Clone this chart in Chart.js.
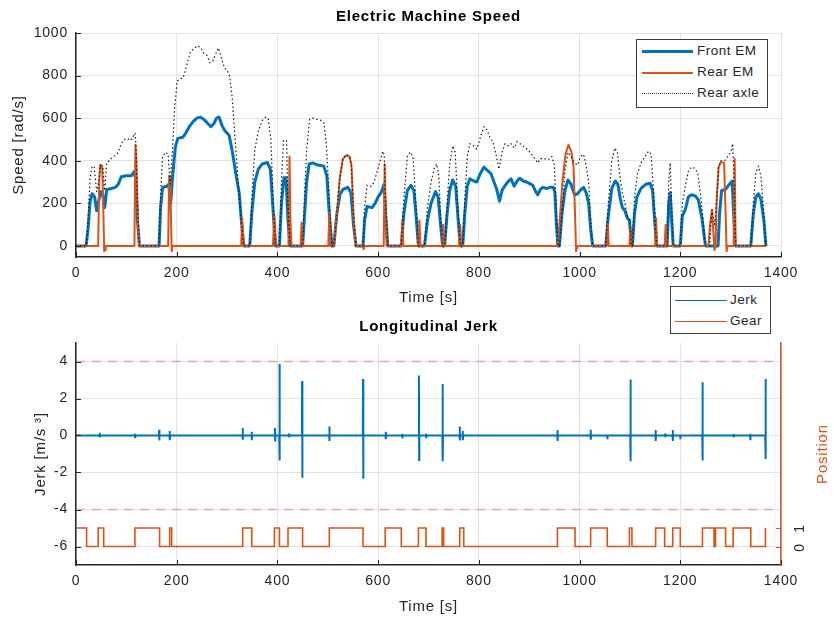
<!DOCTYPE html>
<html>
<head>
<meta charset="utf-8">
<title>Electric Machine Speed / Longitudinal Jerk</title>
<script src="https://cdn.jsdelivr.net/npm/chart.js@4.4.1/dist/chart.umd.min.js"></script>
<style>
    html, body { margin: 0; padding: 0; background: #fff; }
    body { width: 834px; height: 617px; position: relative; overflow: hidden;
           font-family: "Liberation Sans", Arial, sans-serif; }
    .panel { position: absolute; left: 0; width: 834px; }
    #speedPanel { top: 0; height: 310px; }
    #jerkPanel { top: 310px; height: 307px; }
    .legend { position: absolute; background: #fff; border: 1.5px solid #404040; box-sizing: border-box;
              font-size: 13.5px; letter-spacing: 0.5px; color: #262626; z-index: 2; }
    .legend .line { position: absolute; }
    .legend .label { position: absolute; line-height: 16px; white-space: nowrap; }
</style>
</head>
<body>
<div class="panel" id="speedPanel"><canvas id="speed-chart" width="834" height="310"></canvas></div>
<div class="panel" id="jerkPanel"><canvas id="jerk-chart" width="834" height="307"></canvas></div>

<div class="legend" id="speedLegend" style="left:636px; top:39px; width:132px; height:69px;"></div>
<div class="legend" id="jerkLegend" style="left:670px; top:286px; width:101px; height:48px;"></div>

<script>
    // ---- data ----
    const timeTicks = [0, 200, 400, 600, 800, 1000, 1200, 1400];
    const speedTicks = [0, 200, 400, 600, 800, 1000];
    const jerkTicks = [-6, -4, -2, 0, 2, 4];
    const gearTicks = [0, 1];

    // Front EM speed [rad/s]
    const frontTime = [0, 20, 24, 28, 32, 37, 41, 45, 49, 53, 57, 61, 70, 78, 84, 90, 100, 110, 116, 119, 122, 126,
        165, 168, 172, 180, 184, 188, 192, 197, 202, 212, 218, 225, 233, 240, 247, 253, 260, 268, 274, 279, 284, 290, 296, 304, 310, 318, 324, 328, 333,
        345, 349, 355, 362, 370, 380, 386, 391, 396,
        404, 408, 413, 417, 421, 425,
        450, 454, 458, 463, 470, 480, 492, 498, 503, 508,
        512, 518, 524, 530, 540, 546, 551, 556,
        570, 573, 578, 588, 594, 600, 606, 612, 615, 619,
        646, 651, 658, 665, 671, 676, 680,
        692, 698, 705, 714, 719, 724, 728,
        732, 737, 742, 748, 754, 759, 763,
        768, 772, 777, 782, 790, 796, 803, 810, 817, 824, 830, 835, 841, 846, 851, 857, 864, 870, 876, 881, 888, 895, 903, 907, 913, 917, 922, 927, 935, 941, 948, 951, 954, 957,
        960, 965, 971, 977, 983, 990, 996, 1003, 1008, 1013, 1018, 1022, 1026,
        1052, 1057, 1064, 1071, 1076, 1081, 1085, 1090, 1095, 1099, 1103,
        1105, 1109, 1114, 1122, 1132, 1140, 1145, 1149, 1153,
        1174, 1177, 1180, 1183, 1186,
        1200, 1204, 1210, 1216, 1222, 1230, 1236, 1243, 1250,
        1275, 1278, 1282, 1290, 1296, 1303, 1306, 1309,
        1340, 1345, 1350, 1355, 1360, 1366, 1370];
    const frontSpeed = [0, 0, 80, 210, 245, 230, 165, 210, 255, 240, 180, 265, 270, 275, 290, 325, 330, 330, 350, 300, 120, 0,
        0, 180, 275, 280, 290, 200, 330, 460, 505, 510, 530, 560, 585, 600, 605, 595, 580, 560, 575, 600, 605, 565, 540, 520, 450, 330, 250, 130, 0,
        0, 150, 300, 360, 385, 392, 360, 180, 0,
        0, 200, 320, 320, 120, 0,
        0, 150, 300, 385, 390, 380, 375, 330, 150, 0,
        0, 150, 240, 265, 275, 250, 100, 0,
        0, 120, 185, 180, 200, 230, 250, 290, 150, 0,
        0, 150, 260, 285, 260, 120, 0,
        0, 120, 200, 255, 230, 100, 0,
        0, 150, 260, 310, 280, 120, 0,
        0, 150, 280, 315, 305, 300, 340, 370, 355, 340, 300, 270, 210, 260, 280, 300, 315, 280, 305, 318, 305, 300, 290, 285, 255, 240, 265, 275, 270, 275, 275, 250, 100, 0,
        0, 150, 260, 310, 290, 240, 245, 265, 275, 250, 200, 80, 0,
        0, 140, 270, 305, 290, 220, 180, 165, 130, 120, 0,
        0, 150, 230, 270, 290, 295, 260, 120, 0,
        0, 200, 250, 120, 0,
        0, 140, 170, 230, 240, 235, 215, 130, 0,
        0, 150, 260, 265, 285, 305, 150, 0,
        0, 150, 230, 245, 220, 120, 0];

    // Rear EM speed [rad/s]
    const rearTime = [0, 44, 46, 48, 52, 54, 56, 58, 59,
        116, 118, 120, 123, 125,
        183, 185, 187, 190, 192,
        328, 330, 333,
        391, 394, 397,
        422, 424, 426, 428,
        446, 448, 450,
        501, 503, 505,
        512, 518, 524, 530, 537, 543, 547, 551, 555,
        569, 571, 573,
        611, 613, 615, 617,
        646, 648, 650,
        680, 682, 684,
        727, 729, 731,
        761, 763, 765,
        956, 960, 966, 972, 978, 984, 988, 991, 993, 996,
        1054, 1056, 1058,
        1099, 1101, 1103,
        1150, 1152, 1154,
        1169, 1171, 1173,
        1256, 1259, 1263, 1266, 1268, 1270, 1272, 1276, 1281, 1287, 1290, 1292, 1294,
        1306, 1308, 1310, 1370];
    const rearSpeed = [0, 0, 300, 380, 375, 200, -25, -20, 0,
        0, 475, 400, 100, 0,
        0, 330, 320, -25, 0,
        0, 130, 0,
        0, 150, 0,
        0, 420, 100, 0,
        0, 110, 0,
        0, 155, 0,
        0, 150, 320, 410, 425, 420, 380, 150, 0,
        0, -15, 0,
        0, 385, 100, 0,
        0, 120, 0,
        0, 120, 0,
        0, 100, 0,
        0, 100, 0,
        0, 100, 300, 430, 475, 440, 370, 150, -25, 0,
        0, 100, 0,
        0, 90, 0,
        0, 130, 0,
        0, 100, 0,
        0, 100, 170, 50, -20, 0, 200, 370, 395, 390, 150, -25, 0,
        0, 410, 0, 0];

    // Rear axle speed [rad/s]
    const axleTime = [0, 20, 24, 28, 32, 36, 41, 45, 49, 53, 57, 61, 66, 72, 78, 84, 90, 96, 102, 108, 113, 117, 119, 122, 126,
        165, 168, 172, 178, 183, 187, 191, 196, 201, 208, 213, 220, 227, 235, 242, 248, 254, 260, 266, 272, 277, 283, 289, 295, 300, 305, 310, 316, 322, 328, 333,
        345, 349, 355, 362, 370, 377, 382, 387, 391, 396,
        404, 408, 412, 418, 421, 425,
        450, 454, 458, 464, 470, 478, 486, 492, 497, 503, 508,
        512, 518, 524, 530, 537, 543, 547, 551, 556,
        570, 573, 578, 586, 592, 598, 604, 609, 612, 615, 619,
        646, 651, 658, 664, 669, 674, 680,
        692, 698, 705, 712, 716, 720, 724, 728,
        732, 737, 742, 748, 753, 758, 763,
        768, 772, 777, 782, 790, 796, 803, 810, 816, 822, 828, 834, 840, 846, 852, 858, 864, 870, 876, 882, 890, 898, 905, 911, 917, 922, 930, 938, 945, 950, 954, 957,
        960, 965, 971, 977, 983, 990, 996, 1002, 1008, 1013, 1018, 1022, 1026,
        1052, 1057, 1064, 1070, 1075, 1080, 1085, 1090, 1095, 1100, 1103,
        1105, 1109, 1115, 1122, 1130, 1137, 1142, 1147, 1153,
        1174, 1177, 1180, 1183, 1186,
        1200, 1204, 1210, 1216, 1222, 1229, 1235, 1242, 1250,
        1258, 1263, 1268, 1272, 1276, 1281, 1288, 1294, 1300, 1304, 1307, 1310,
        1340, 1345, 1350, 1355, 1360, 1366, 1370];
    const axleSpeed = [0, 0, 120, 320, 375, 370, 255, 300, 380, 370, 260, 390, 400, 415, 425, 440, 480, 500, 505, 495, 510, 530, 480, 200, 0,
        0, 250, 420, 440, 430, 290, 430, 650, 775, 785, 790, 850, 910, 930, 940, 930, 905, 895, 860, 870, 900, 930, 880, 835, 825, 800, 700, 500, 300, 120, 0,
        0, 220, 450, 540, 590, 605, 595, 500, 250, 0,
        0, 300, 495, 495, 200, 0,
        0, 250, 450, 595, 600, 595, 590, 580, 480, 230, 0,
        0, 150, 320, 410, 430, 420, 380, 150, 0,
        0, 180, 285, 280, 300, 350, 400, 445, 430, 200, 0,
        0, 220, 420, 440, 420, 250, 0,
        0, 180, 300, 370, 385, 340, 150, 0,
        0, 200, 380, 470, 440, 200, 0,
        0, 220, 420, 480, 470, 455, 510, 560, 545, 510, 490, 430, 360, 440, 480, 470, 480, 460, 490, 480, 465, 450, 430, 410, 390, 410, 410, 405, 420, 380, 150, 0,
        0, 150, 350, 440, 420, 390, 380, 420, 430, 380, 300, 120, 0,
        0, 200, 400, 460, 440, 330, 250, 200, 140, 120, 0,
        0, 230, 340, 390, 420, 445, 430, 250, 0,
        0, 300, 390, 180, 0,
        0, 200, 280, 350, 370, 365, 340, 200, 0,
        0, 170, 100, 200, 370, 400, 400, 420, 440, 480, 300, 0,
        0, 200, 340, 375, 330, 150, 0];

    // Longitudinal jerk: spikes on a zero baseline [m/s^3]
    const jerkStart = 0;
    const jerkEnd = 1370;
    const spikeTime = [47, 117, 165, 186, 331, 349, 395, 404, 423, 449, 503, 570, 615, 648, 681, 695, 728, 762, 768,
        956, 1022, 1055, 1101, 1151, 1170, 1185, 1200, 1244, 1306, 1339, 1369];
    const spikeHigh = [0.15, 0.1, 0.31, 0.25, 0.41, 0.2, 0.41, 3.87, 0.1, 2.94, 0.49, 3.06, 0.2, 0.1, 3.24, 0.1, 2.79, 0.49, 0.25,
        0.3, 0.31, 0.05, 3.03, 0.3, 0.1, 0.3, 0.05, 2.88, 0.1, 0.1, 3.06];
    const spikeLow = [-0.1, -0.1, -0.27, -0.25, -0.23, -0.25, -0.27, -1.35, -0.1, -2.29, -0.3, -2.34, -0.2, -0.15, -1.32, -0.1, -1.39, -0.27, -0.25,
        -0.3, -0.23, -0.2, -1.39, -0.3, -0.1, -0.3, -0.2, -1.35, -0.1, -0.25, -1.27];
    const jerkLimits = [4, -4];

    // Gear position (0/1), value holds from each switch time
    const gearTime = [0, 21, 44, 55, 117, 166, 186, 190, 331, 349, 394, 404, 421, 450, 503, 570, 614, 646, 680, 695,
        727, 730, 762, 770, 956, 991, 1022, 1055, 1099, 1104, 1151, 1169, 1185, 1200, 1244, 1267, 1270, 1290, 1305, 1340, 1369];
    const gearState = [1, 0, 1, 0, 1, 0, 1, 0, 1, 0, 1, 0, 1, 0, 1, 0, 1, 0, 1, 0,
        1, 0, 1, 0, 1, 0, 1, 0, 1, 0, 1, 0, 1, 0, 1, 0, 1, 0, 1, 0, 1];

    // ---- styling ----
    const BLUE = '#0072BD';
    const ORANGE = '#D95319';
    const AXIS = '#262626';
    const GRID = '#e2e2e2';
    const FONT = '"Liberation Sans", Arial, sans-serif';
    const SPACING = '0.8px';

    const toPoints = (xs, ys) => xs.map((x, i) => ({x: x, y: ys[i]}));

    function buildJerk() {
        const pts = [{x: jerkStart, y: 0}];
        spikeTime.forEach((t, i) => {
            pts.push({x: t - 0.4, y: 0}, {x: t, y: spikeHigh[i]}, {x: t + 0.4, y: spikeLow[i]}, {x: t + 0.8, y: 0});
        });
        pts.push({x: jerkEnd, y: 0});
        return pts;
    }

    // the original text is set a little looser than Liberation Sans
    const looseText = {
        id: 'looseText',
        beforeUpdate(chart) { chart.ctx.letterSpacing = SPACING; },
        beforeDraw(chart) { chart.ctx.letterSpacing = SPACING; }
    };

    // MATLAB style ticks pointing into the plot
    const innerTicks = {
        id: 'innerTicks',
        afterDraw(chart) {
            const ctx = chart.ctx;
            const area = chart.chartArea;
            ctx.save();
            ctx.strokeStyle = AXIS;
            ctx.lineWidth = 1;
            chart.scales.x.ticks.forEach(t => {
                const px = Math.round(chart.scales.x.getPixelForValue(t.value)) + 0.5;
                ctx.beginPath();
                ctx.moveTo(px, area.bottom);
                ctx.lineTo(px, area.bottom - 5);
                ctx.stroke();
            });
            chart.scales.y.ticks.forEach(t => {
                const py = Math.round(chart.scales.y.getPixelForValue(t.value)) + 0.5;
                ctx.beginPath();
                ctx.moveTo(area.left, py);
                ctx.lineTo(area.left + 5, py);
                ctx.stroke();
            });
            ctx.restore();
        }
    };

    // right axis of the jerk plot: rotated labels as in the original
    const gearAxis = {
        id: 'gearAxis',
        afterDraw(chart) {
            const s = chart.scales.yGear;
            const ctx = chart.ctx;
            const area = chart.chartArea;
            ctx.save();
            ctx.strokeStyle = ORANGE;
            ctx.lineWidth = 1;
            ctx.textAlign = 'center';
            ctx.textBaseline = 'middle';
            gearTicks.forEach(v => {
                const py = Math.round(s.getPixelForValue(v)) + 0.5;
                ctx.beginPath();
                ctx.moveTo(area.right, py);
                ctx.lineTo(area.right - 5, py);
                ctx.stroke();
                ctx.save();
                ctx.translate(area.right + 19, py);
                ctx.rotate(-Math.PI / 2);
                ctx.fillStyle = AXIS;
                ctx.font = '14px ' + FONT;
                ctx.fillText(String(v), 0, 0);
                ctx.restore();
            });
            ctx.translate(area.right + 42, (area.top + area.bottom) / 2);
            ctx.rotate(-Math.PI / 2);
            ctx.fillStyle = ORANGE;
            ctx.font = '15px ' + FONT;
            ctx.fillText('Position', 0, 0);
            ctx.restore();
        }
    };

    function xScale(axisBottom, titlePad) {
        return {
            type: 'linear', min: 0, max: 1400,
            afterBuildTicks: s => { s.ticks = timeTicks.map(v => ({value: v})); },
            afterFit: s => { s.height = s.chart.height - axisBottom; },
            grid: {color: GRID, drawTicks: false},
            border: {color: AXIS, width: 1.5},
            ticks: {padding: 8, color: AXIS, font: {size: 14, family: FONT}, autoSkip: false, maxRotation: 0,
                callback: v => String(v)},
            title: {display: true, text: 'Time [s]', color: AXIS, font: {size: 15, family: FONT}, padding: {top: 0, bottom: titlePad}}
        };
    }

    const titleOpts = text => ({
        display: true, text: text, fullSize: false, color: '#000',
        font: {size: 15, weight: 'bold', family: FONT}, padding: {top: 8, bottom: 7}
    });

    // ---- top: electric machine speed ----
    const speedChart = new Chart(document.getElementById('speed-chart'), {
        type: 'line',
        data: {
            datasets: [
                {label: 'Front EM', data: toPoints(frontTime, frontSpeed), borderColor: BLUE, borderWidth: 3, order: 2},
                {label: 'Rear EM', data: toPoints(rearTime, rearSpeed), borderColor: ORANGE, borderWidth: 2, order: 1},
                {label: 'Rear axle', data: toPoints(axleTime, axleSpeed), borderColor: '#1a1a1a', borderWidth: 1.2,
                    borderDash: [1.5, 2.5], order: 0}
            ]
        },
        options: {
            responsive: false, animation: false, devicePixelRatio: 1,
            layout: {padding: {right: 53}},
            elements: {point: {radius: 0}, line: {tension: 0, borderJoinStyle: 'round'}},
            plugins: {legend: {display: false}, tooltip: {enabled: false}, title: titleOpts('Electric Machine Speed')},
            scales: {
                x: xScale(257, 3),
                y: {
                    type: 'linear', min: -52, max: 1000,
                    afterBuildTicks: s => { s.ticks = speedTicks.map(v => ({value: v})); },
                    afterFit: s => { s.width = 76; },
                    grid: {color: GRID, drawTicks: false},
                    border: {color: AXIS, width: 1.5},
                    ticks: {padding: 8, color: AXIS, font: {size: 14, family: FONT}, callback: v => String(v)},
                    title: {display: true, text: 'Speed [rad/s]', color: AXIS, font: {size: 15, family: FONT}, padding: {top: 10, bottom: 0}}
                }
            }
        },
        plugins: [looseText, innerTicks]
    });

    // ---- bottom: longitudinal jerk ----
    const jerkChart = new Chart(document.getElementById('jerk-chart'), {
        type: 'line',
        data: {
            datasets: [
                {label: 'Jerk', data: buildJerk(), borderColor: BLUE, borderWidth: 2, yAxisID: 'y', order: 1},
                {label: 'Gear', data: toPoints(gearTime, gearState), borderColor: ORANGE, borderWidth: 1.6, stepped: true,
                    yAxisID: 'yGear', order: 0},
                ...jerkLimits.map(v => ({label: 'limit', data: [{x: 0, y: v}, {x: 1400, y: v}],
                    borderColor: 'rgba(232, 120, 120, 0.45)', borderWidth: 2, borderDash: [9, 7], yAxisID: 'y', order: 3}))
            ]
        },
        options: {
            responsive: false, animation: false, devicePixelRatio: 1,
            elements: {point: {radius: 0}, line: {tension: 0}},
            plugins: {legend: {display: false}, tooltip: {enabled: false}, title: titleOpts('Longitudinal Jerk')},
            scales: {
                x: xScale(255, 1),
                y: {
                    type: 'linear', min: -7, max: 5, position: 'left',
                    afterBuildTicks: s => { s.ticks = jerkTicks.map(v => ({value: v})); },
                    afterFit: s => { s.width = 76; },
                    grid: {color: GRID, drawTicks: false},
                    border: {color: AXIS, width: 1.5},
                    ticks: {padding: 8, color: AXIS, font: {size: 14, family: FONT}, callback: v => String(v)},
                    title: {display: true, text: 'Jerk [m/s ³]', color: AXIS, font: {size: 15, family: FONT}, padding: {top: 32, bottom: 0}}
                },
                yGear: {
                    type: 'linear', min: -1, max: 11, position: 'right',
                    afterFit: s => { s.width = 53; },
                    grid: {display: false, drawTicks: false},
                    border: {color: ORANGE, width: 1.5},
                    ticks: {display: false}
                }
            }
        },
        plugins: [looseText, innerTicks, gearAxis]
    });

    // ---- legends ----
    function fillLegend(box, rows) {
        rows.forEach(r => {
            const line = document.createElement('div');
            line.className = 'line';
            line.style.left = r.x0 + 'px';
            line.style.width = r.w + 'px';
            line.style.top = (r.cy - r.lw / 2) + 'px';
            line.style.borderTop = r.lw + 'px ' + r.style + ' ' + r.color;
            box.appendChild(line);
            const label = document.createElement('div');
            label.className = 'label';
            label.style.left = r.tx + 'px';
            label.style.top = (r.cy - 8.5) + 'px';
            label.textContent = r.text;
            box.appendChild(label);
        });
    }
    const sets = speedChart.data.datasets;
    fillLegend(document.getElementById('speedLegend'), [
        {text: sets[0].label, color: BLUE, lw: 3, style: 'solid', cy: 11.5, x0: 5, w: 51, tx: 60},
        {text: sets[1].label, color: ORANGE, lw: 2, style: 'solid', cy: 32.5, x0: 5, w: 51, tx: 60},
        {text: sets[2].label, color: '#333', lw: 1, style: 'dotted', cy: 53.5, x0: 5, w: 51, tx: 60}
    ]);
    const jsets = jerkChart.data.datasets;
    fillLegend(document.getElementById('jerkLegend'), [
        {text: jsets[0].label, color: BLUE, lw: 1.5, style: 'solid', cy: 13.5, x0: 4, w: 52, tx: 59},
        {text: jsets[1].label, color: ORANGE, lw: 1.5, style: 'solid', cy: 34.5, x0: 4, w: 52, tx: 59}
    ]);
</script>
</body>
</html>
